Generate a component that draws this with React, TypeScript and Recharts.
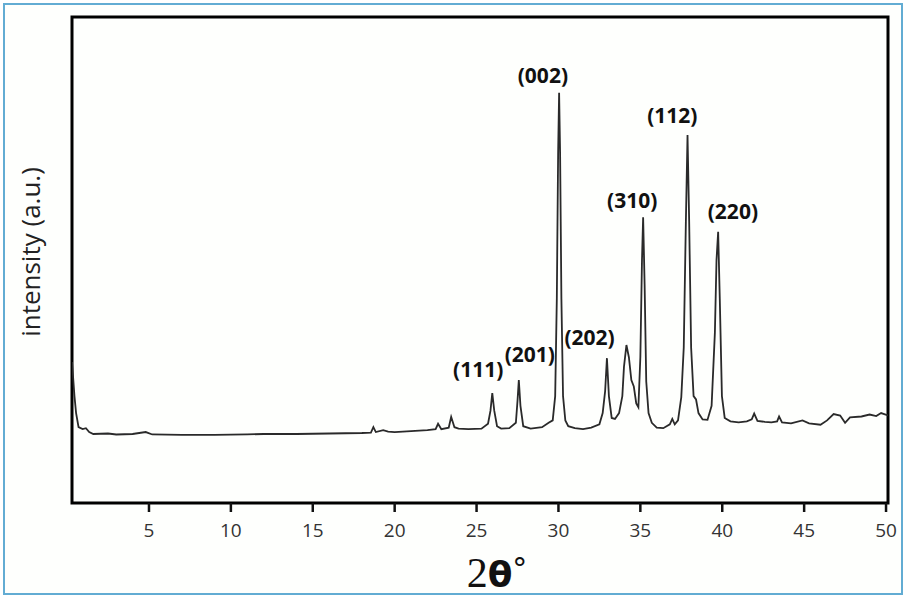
import React from 'react';
import {
  ComposedChart,
  Line,
  XAxis,
  YAxis,
  ReferenceArea,
  ReferenceDot,
} from 'recharts';

// 2θ (degrees) and intensity (a.u., 0-100 scale)
const twoTheta = [
  0.3, 0.45, 0.55, 0.7, 0.95, 1.15, 1.35, 1.6, 2.5, 3.0, 4.0, 4.8, 5.2, 7.0, 9.0,
  11.0, 12.0, 14.0, 16.0, 18.0, 18.55, 18.7, 18.85, 19.3, 19.6, 20.0, 21.0, 22.0,
  22.5, 22.65, 22.85, 23.3, 23.45, 23.65, 23.9, 24.5, 25.3, 25.7, 25.85, 25.96,
  26.08, 26.25, 26.5, 27.0, 27.4, 27.5, 27.58, 27.68, 27.85, 28.3, 29.0, 29.4,
  29.65, 29.8, 29.9, 29.98, 30.04, 30.1, 30.18, 30.28, 30.42, 30.6, 31.0, 31.5,
  32.0, 32.5, 32.7, 32.85, 32.96, 33.08, 33.25, 33.45, 33.7, 33.9, 34.0, 34.15,
  34.3, 34.45, 34.6, 34.75, 34.88, 35.0, 35.1, 35.17, 35.26, 35.36, 35.5, 35.7,
  36.0, 36.4, 36.8, 36.95, 37.1, 37.3, 37.5, 37.65, 37.78, 37.88, 37.98, 38.1,
  38.25, 38.4, 38.55, 38.8, 39.1, 39.35, 39.55, 39.65, 39.75, 39.85, 39.98, 40.15,
  40.5, 41.0, 41.5, 41.8, 41.95, 42.15, 42.6, 43.0, 43.35, 43.47, 43.65, 44.2,
  44.9, 45.3, 46.0, 46.4, 46.8, 47.2, 47.5, 47.8, 48.5, 49.0, 49.4, 49.7, 50.12,
];

const intensity = [
  29, 22, 18.5, 15.6, 15.2, 15.4, 14.6, 14.2, 14.3, 14.1, 14.2, 14.6, 14.1, 14.0,
  14.0, 14.1, 14.2, 14.2, 14.3, 14.4, 14.5, 15.6, 14.6, 15.0, 14.7, 14.6, 14.8,
  15.0, 15.2, 16.3, 15.2, 15.5, 17.7, 15.6, 15.3, 15.2, 15.3, 16.3, 19, 22.6, 19,
  15.8, 15.3, 15.4, 16.5, 21, 25.3, 20, 15.8, 15.3, 15.6, 16.5, 17, 22, 42, 72,
  84.4, 72, 42, 22, 17, 15.8, 15.4, 15.2, 15.5, 16.2, 18.5, 23, 29.8, 22, 17.5,
  17.3, 18.5, 22, 28, 32.5, 30, 25.3, 24, 20.5, 19.7, 30, 50, 58.8, 45, 25, 18.5,
  16.5, 15.5, 15.4, 16.2, 17.3, 16.2, 17, 21.8, 32, 58, 75.7, 58, 32, 22, 21.3,
  18.5, 17.2, 17.1, 20, 35, 50, 55.8, 42, 22, 17.5, 16.8, 16.6, 16.8, 17.2, 18.4,
  16.9, 16.7, 16.6, 16.8, 17.8, 16.6, 16.4, 17.0, 16.4, 16.1, 17.0, 18.3, 18.0,
  16.5, 17.6, 17.8, 18.2, 17.9, 18.5, 18.0,
];

const xTicks = [5, 10, 15, 20, 25, 30, 35, 40, 45, 50];

// Miller index annotations: text, 2θ anchor, intensity anchor
const peakLabels = ['(111)', '(201)', '(002)', '(202)', '(310)', '(112)', '(220)'];
const peakLabelTheta = [25.1, 28.25, 29.05, 31.9, 34.5, 36.95, 40.65];
const peakLabelIntensity = [27.6, 30.6, 88.0, 34.2, 62.4, 79.9, 60.0];

const data = twoTheta.map((t, i) => ({ t, v: intensity[i] }));

const W = 906;
const H = 598;
const PLOT_BOTTOM = 503;

const XTick = (p: any) => (
  <text
    x={p.x}
    y={PLOT_BOTTOM + 34}
    textAnchor="middle"
    fontFamily="Open Sans"
    fontSize={19}
    fill="#333"
  >
    {p.payload.value}
  </text>
);

export default function App() {
  return (
    <div
      style={{
        position: 'absolute',
        left: 0,
        top: 0,
        width: W,
        height: H,
        background: '#fff',
        overflow: 'hidden',
      }}
    >
      <div
        style={{
          position: 'absolute',
          left: 3,
          top: 3,
          width: W - 10,
          height: H - 10,
          border: '2px solid #62acd3',
          background: '#fefffd',
        }}
      />
      <div style={{ position: 'absolute', left: 0, top: 0 }}>
        <ComposedChart
          width={W}
          height={H}
          data={data}
          margin={{ top: 17, right: 18, bottom: 0, left: 72 }}
        >
          <XAxis
            type="number"
            dataKey="t"
            domain={[0.3, 50.12]}
            allowDataOverflow
            ticks={xTicks}
            axisLine={false}
            tickSize={9}
            tickLine={{ stroke: '#111', strokeWidth: 2.5 }}
            tick={<XTick />}
            height={H - PLOT_BOTTOM}
          />
          <YAxis type="number" domain={[0, 100]} hide allowDataOverflow />
          <Line
            type="linear"
            dataKey="v"
            stroke="#2a2a2a"
            strokeWidth={1.8}
            dot={false}
            isAnimationActive={false}
          />
          <ReferenceArea
            x1={0.3}
            x2={50.12}
            y1={0}
            y2={100}
            fill="none"
            stroke="#000"
            strokeWidth={3}
            ifOverflow="visible"
          />
          {peakLabels.map((txt, i) => (
            <ReferenceDot
              key={txt}
              x={peakLabelTheta[i]}
              y={peakLabelIntensity[i]}
              r={0}
              ifOverflow="visible"
              shape={(p: any) => (
                <text
                  x={p.cx}
                  y={p.cy}
                  textAnchor="middle"
                  dominantBaseline="central"
                  fontFamily="Open Sans"
                  fontWeight={700}
                  fontSize={21}
                  fill="#111"
                >
                  {txt}
                </text>
              )}
            />
          ))}
        </ComposedChart>
      </div>
      <svg
        width={W}
        height={H}
        style={{ position: 'absolute', left: 0, top: 0, pointerEvents: 'none' }}
      >
        <text
          x={0}
          y={0}
          transform="translate(40 252) rotate(-90)"
          textAnchor="middle"
          fontFamily="Open Sans"
          fontSize={26}
          fill="#222"
        >
          intensity (a.u.)
        </text>
        <text x={497} y={587} textAnchor="middle" fill="#111">
          <tspan fontFamily="Liberation Serif" fontSize={42}>2</tspan>
          <tspan fontFamily="DejaVu Sans" fontWeight={700} fontSize={36}>θ</tspan>
          <tspan fontFamily="DejaVu Sans" fontSize={30} dy={-8}>°</tspan>
        </text>
      </svg>
    </div>
  );
}
